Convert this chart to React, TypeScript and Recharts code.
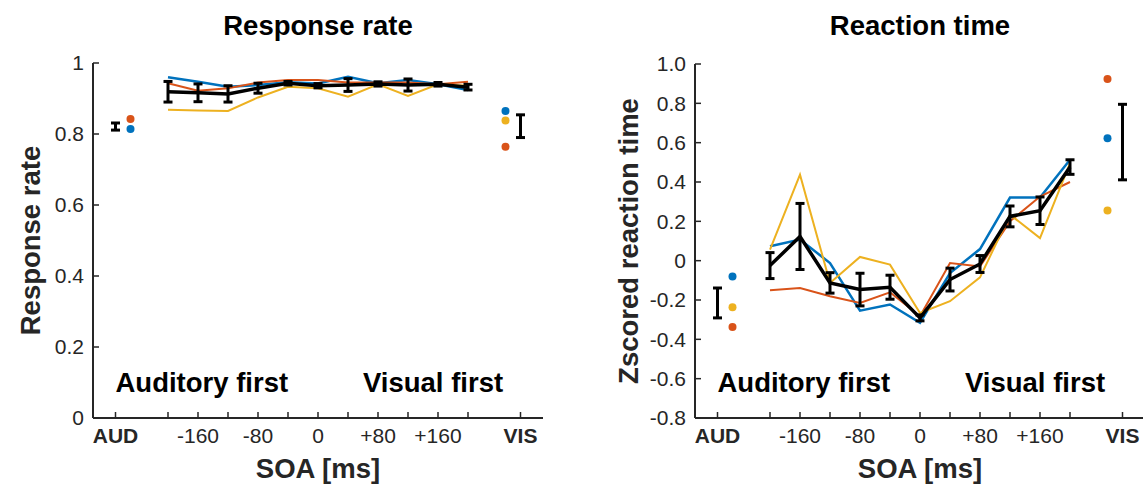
import React from 'react';
import {
  ComposedChart,
  Line,
  Scatter,
  XAxis,
  YAxis,
  ErrorBar,
  ReferenceDot,
  Label,
} from 'recharts';

const FONT = '"Liberation Sans", Arial, Helvetica, sans-serif';
const INK = '#262626';
const BLUE = '#0072BD';
const ORANGE = '#D95319';
const YELLOW = '#EDB120';
const LABEL_SIZE = 27.5;
const TICK_SIZE = 21;

// SOA conditions (ms); AUD / VIS unimodal conditions sit at the axis ends
const soa = [-200, -160, -120, -80, -40, 0, 40, 80, 120, 160, 200];
const xTicks = [-270, -200, -160, -120, -80, -40, 0, 40, 80, 120, 160, 200, 270];
const xTickLabels = ['AUD', '', '-160', '', '-80', '', '0', '', '+80', '', '+160', '', 'VIS'];
const unimodalX = [-270, 270];
const unimodalDotX = [-250, 250];

// Response rate
const rateTicks = [0, 0.2, 0.4, 0.6, 0.8, 1];
const rateBlue = [0.96, 0.947, 0.933, 0.938, 0.946, 0.942, 0.961, 0.943, 0.952, 0.94, 0.924];
const rateOrange = [0.943, 0.922, 0.929, 0.945, 0.952, 0.952, 0.945, 0.945, 0.945, 0.94, 0.947];
const rateYellow = [0.868, 0.866, 0.865, 0.903, 0.933, 0.929, 0.905, 0.94, 0.907, 0.94, 0.936];
const rateMean = [0.919, 0.916, 0.913, 0.929, 0.943, 0.936, 0.938, 0.941, 0.938, 0.94, 0.932];
const rateSem = [0.029, 0.025, 0.023, 0.014, 0.005, 0.006, 0.018, 0.006, 0.017, 0.005, 0.008];
const rateUniMean = [0.821, 0.822];
const rateUniSem = [0.01, 0.032];
const rateUniBlue = [0.814, 0.865];
const rateUniOrange = [0.842, 0.764];
const rateUniYellow = [null, 0.838];

// Z-scored reaction time
const rtTicks = [-0.8, -0.6, -0.4, -0.2, 0, 0.2, 0.4, 0.6, 0.8, 1.0];
const rtBlue = [0.073, 0.107, -0.012, -0.254, -0.223, -0.316, -0.063, 0.059, 0.321, 0.321, 0.513];
const rtOrange = [-0.151, -0.139, -0.181, -0.215, -0.161, -0.283, -0.012, -0.029, 0.2, 0.326, 0.4];
const rtYellow = [0.056, 0.437, -0.113, 0.019, -0.02, -0.266, -0.206, -0.085, 0.234, 0.115, 0.496];
const rtMean = [-0.025, 0.123, -0.113, -0.147, -0.135, -0.291, -0.096, -0.017, 0.225, 0.254, 0.476];
const rtSem = [0.066, 0.168, 0.052, 0.083, 0.061, 0.015, 0.058, 0.043, 0.053, 0.07, 0.037];
const rtUniMean = [-0.215, 0.603];
const rtUniSem = [0.076, 0.192];
const rtUniBlue = [-0.08, 0.623];
const rtUniOrange = [-0.337, 0.924];
const rtUniYellow = [-0.237, 0.255];

type Pt = { x: number; y: number; err?: number };

const toSeries = (ys: number[], errs?: number[]): Pt[] =>
  ys.map((y, i) => ({ x: soa[i], y, err: errs ? errs[i] : undefined }));

const toDots = (ys: (number | null)[]): Pt[] =>
  ys
    .map((y, i) => (y === null ? null : { x: unimodalDotX[i], y }))
    .filter((p): p is Pt => p !== null);

const toUni = (ys: number[], errs: number[]): Pt[] =>
  ys.map((y, i) => ({ x: unimodalX[i], y, err: errs[i] }));

const XTick = (props: any) => {
  const { x, y, payload } = props;
  const idx = xTicks.indexOf(payload.value);
  const label = idx >= 0 ? xTickLabels[idx] : '';
  const bold = label === 'AUD' || label === 'VIS';
  return (
    <g>
      <line x1={x} x2={x} y1={y} y2={y - 6} stroke={INK} strokeWidth={1.5} />
      {label ? (
        <text
          x={x}
          y={y + 24.5}
          textAnchor="middle"
          fontSize={TICK_SIZE}
          fontWeight={bold ? 700 : 400}
          fill={INK}
          fontFamily={FONT}
        >
          {label}
        </text>
      ) : null}
    </g>
  );
};

const makeYTick = (fmt: (v: number) => string) => (props: any) => {
  const { x, y, payload } = props;
  return (
    <g>
      <line x1={x} x2={x + 6} y1={y} y2={y} stroke={INK} strokeWidth={1.5} />
      <text
        x={x - 9}
        y={y}
        dy="0.35em"
        textAnchor="end"
        fontSize={TICK_SIZE}
        fill={INK}
        fontFamily={FONT}
      >
        {fmt(payload.value)}
      </text>
    </g>
  );
};

const rateFmt = (v: number) => (v === 0 || v === 1 ? String(v) : v.toFixed(1));
const rtFmt = (v: number) => (Math.abs(v) < 1e-9 ? '0' : v.toFixed(1));

const yLabel = (text: string, cx: number) => (props: any) => {
  const vb = props.viewBox || {};
  const cy = vb.y + vb.height / 2;
  return (
    <text
      x={cx}
      y={cy}
      dy="0.35em"
      transform={`rotate(-90, ${cx}, ${cy})`}
      textAnchor="middle"
      fontSize={LABEL_SIZE}
      fontWeight={700}
      fill={INK}
      fontFamily={FONT}
    >
      {text}
    </text>
  );
};

const xLabel = (text: string) => (props: any) => {
  const vb = props.viewBox || {};
  return (
    <text
      x={vb.x + vb.width / 2}
      y={vb.y + 60}
      textAnchor="middle"
      fontSize={LABEL_SIZE}
      fontWeight={700}
      fill={INK}
      fontFamily={FONT}
    >
      {text}
    </text>
  );
};

const annotation = (text: string) => (p: any) => (
  <text
    x={p.cx}
    y={p.cy}
    dy="0.35em"
    textAnchor="start"
    fontSize={LABEL_SIZE}
    fontWeight={700}
    fill="#000"
    fontFamily={FONT}
  >
    {text}
  </text>
);

const dotShape = (color: string) => (p: any) => (
  <circle cx={p.cx} cy={p.cy} r={4} fill={color} stroke="none" />
);

const noShape = () => <g />;

type PanelProps = {
  width: number;
  rightMargin: number;
  top: number;
  domain: [number, number];
  yTicks: number[];
  fmt: (v: number) => string;
  yTitle: string;
  yTitleX: number;
  annotY: number;
  blue: number[];
  orange: number[];
  yellow: number[];
  mean: number[];
  sem: number[];
  uniMean: number[];
  uniSem: number[];
  uniBlue: (number | null)[];
  uniOrange: (number | null)[];
  uniYellow: (number | null)[];
};

const Panel = (p: PanelProps) => (
  <ComposedChart
    width={p.width}
    height={484}
    margin={{ top: p.top, right: p.rightMargin, bottom: 0, left: 0 }}
  >
    <XAxis
      type="number"
      dataKey="x"
      domain={[-300, 300]}
      ticks={xTicks}
      interval={0}
      tickSize={0}
      tickMargin={0}
      height={66}
      axisLine={{ stroke: INK, strokeWidth: 2 }}
      tickLine={false}
      tick={<XTick />}
      allowDataOverflow
    >
      <Label content={xLabel('SOA [ms]')} />
    </XAxis>
    <YAxis
      type="number"
      domain={p.domain}
      ticks={p.yTicks}
      interval={0}
      tickSize={0}
      tickMargin={0}
      width={93}
      axisLine={{ stroke: INK, strokeWidth: 2 }}
      tickLine={false}
      tick={makeYTick(p.fmt)}
      allowDataOverflow
    >
      <Label content={yLabel(p.yTitle, p.yTitleX)} />
    </YAxis>

    <ReferenceDot x={-270} y={p.annotY} r={0} shape={annotation('Auditory first')} />
    <ReferenceDot x={60} y={p.annotY} r={0} shape={annotation('Visual first')} />

    <Line
      data={toSeries(p.blue)}
      dataKey="y"
      stroke={BLUE}
      strokeWidth={2.5}
      dot={false}
      isAnimationActive={false}
    />
    <Line
      data={toSeries(p.orange)}
      dataKey="y"
      stroke={ORANGE}
      strokeWidth={2}
      dot={false}
      isAnimationActive={false}
    />
    <Line
      data={toSeries(p.yellow)}
      dataKey="y"
      stroke={YELLOW}
      strokeWidth={2}
      dot={false}
      isAnimationActive={false}
    />
    <Line
      data={toSeries(p.mean, p.sem)}
      dataKey="y"
      stroke="#000"
      strokeWidth={3.5}
      dot={false}
      isAnimationActive={false}
    >
      <ErrorBar dataKey="err" direction="y" width={4.5} stroke="#000" strokeWidth={3} />
    </Line>

    <Scatter
      data={toUni(p.uniMean, p.uniSem)}
      dataKey="y"
      shape={noShape}
      isAnimationActive={false}
    >
      <ErrorBar dataKey="err" direction="y" width={4.5} stroke="#000" strokeWidth={3} />
    </Scatter>
    <Scatter data={toDots(p.uniBlue)} dataKey="y" shape={dotShape(BLUE)} isAnimationActive={false} />
    <Scatter data={toDots(p.uniYellow)} dataKey="y" shape={dotShape(YELLOW)} isAnimationActive={false} />
    <Scatter data={toDots(p.uniOrange)} dataKey="y" shape={dotShape(ORANGE)} isAnimationActive={false} />
  </ComposedChart>
);

const titleStyle = (left: number, width: number): React.CSSProperties => ({
  position: 'absolute',
  left,
  width,
  top: 10,
  textAlign: 'center',
  fontFamily: FONT,
  fontSize: LABEL_SIZE,
  lineHeight: '32px',
  fontWeight: 700,
  color: '#000',
});

export default function App() {
  return (
    <div
      style={{
        position: 'fixed',
        left: 0,
        top: 0,
        width: 1143,
        height: 484,
        overflow: 'hidden',
        background: '#fff',
      }}
    >
      <div style={{ position: 'absolute', left: 0, top: 0 }}>
        <Panel
          width={571}
          rightMargin={28}
          top={63}
          domain={[0, 1]}
          yTicks={rateTicks}
          fmt={rateFmt}
          yTitle="Response rate"
          yTitleX={30}
          annotY={0.1}
          blue={rateBlue}
          orange={rateOrange}
          yellow={rateYellow}
          mean={rateMean}
          sem={rateSem}
          uniMean={rateUniMean}
          uniSem={rateUniSem}
          uniBlue={rateUniBlue}
          uniOrange={rateUniOrange}
          uniYellow={rateUniYellow}
        />
      </div>
      <div style={{ position: 'absolute', left: 602, top: 0 }}>
        <Panel
          width={543}
          rightMargin={0}
          top={64}
          domain={[-0.8, 1]}
          yTicks={rtTicks}
          fmt={rtFmt}
          yTitle="Zscored reaction time"
          yTitleX={26}
          annotY={-0.62}
          blue={rtBlue}
          orange={rtOrange}
          yellow={rtYellow}
          mean={rtMean}
          sem={rtSem}
          uniMean={rtUniMean}
          uniSem={rtUniSem}
          uniBlue={rtUniBlue}
          uniOrange={rtUniOrange}
          uniYellow={rtUniYellow}
        />
      </div>
      <div style={titleStyle(93, 450)}>Response rate</div>
      <div style={titleStyle(695, 450)}>Reaction time</div>
    </div>
  );
}
